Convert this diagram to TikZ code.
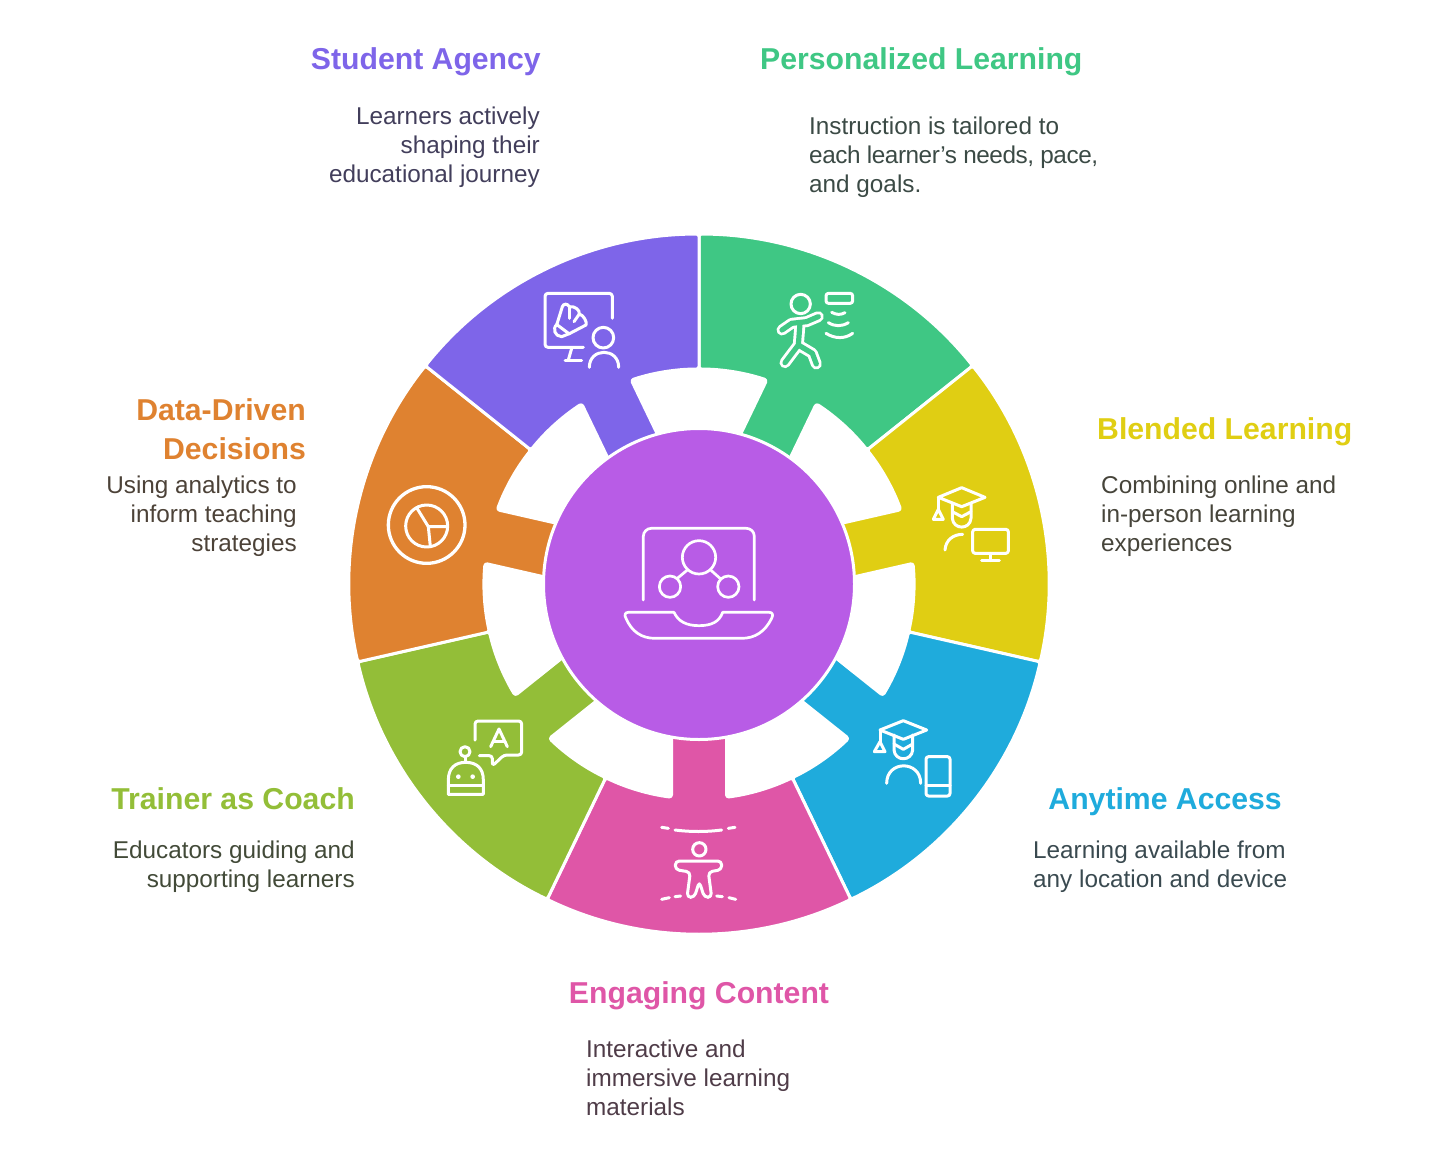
\documentclass[tikz,border=0pt]{standalone}
\usepackage{fontspec}
\setmainfont{Liberation Sans}
\definecolor{cPurple}{HTML}{7E65E9}
\definecolor{cGreen}{HTML}{3FC784}
\definecolor{cYellow}{HTML}{E0CE13}
\definecolor{cBlue}{HTML}{1FABDC}
\definecolor{cPink}{HTML}{DF56A7}
\definecolor{cLime}{HTML}{93BE38}
\definecolor{cOrange}{HTML}{DF8230}
\definecolor{cCentre}{HTML}{B85CE6}
\definecolor{tPurple}{HTML}{423E5B}
\definecolor{tGreen}{HTML}{3B4A45}
\definecolor{tYellow}{HTML}{46443A}
\definecolor{tBlue}{HTML}{3A4A50}
\definecolor{tPink}{HTML}{4F3C48}
\definecolor{tLime}{HTML}{424A38}
\definecolor{tOrange}{HTML}{4C4238}
\tikzset{
  head/.style={inner sep=0pt,font=\fontsize{30.2}{39}\selectfont\bfseries},
  body/.style={inner sep=0pt,font=\fontsize{24.3}{29}\selectfont},
  icon/.style={draw=white,line width=3pt,line cap=round,line join=round,rounded corners=2pt},
  iconc/.style={draw=white,line width=3pt,line cap=round,line join=round},
  centreline/.style={draw=white,line width=2.7pt,line cap=round,line join=round},
}
\newcommand\petal[2]{%
  \begin{scope}[shift={(699,584)},y=1pt,rotate=#1]
    \path[fill=#2,draw=white,line width=3pt,line join=round,rounded corners=2.5pt]
      (-25.714:350) arc[start angle=-25.714,end angle=25.714,radius=350]
      -- (25.714:215) arc[start angle=25.714,end angle=7.35,radius=215]
      -- (100,27.5) -- (100,-27.5) -- (-7.35:215)
      arc[start angle=-7.35,end angle=-25.714,radius=215] -- cycle;
  \end{scope}}
\begin{document}
\begin{tikzpicture}[x=1pt,y=-1pt]
\useasboundingbox (0,0) rectangle (1440,1153);
\petal{64.286}{cGreen}
\petal{12.857}{cYellow}
\petal{-38.571}{cBlue}
\petal{-90}{cPink}
\petal{-141.429}{cLime}
\petal{167.143}{cOrange}
\petal{115.714}{cPurple}
\path[fill=cCentre,draw=white,line width=3pt] (699,584) circle[radius=155.5];
% centre icon
\begin{scope}[shift={(600,510)},scale=1/3]
  \draw[centreline,rounded corners=8pt] (130,270) -- (130,55) -- (463,55) -- (463,270);
  \draw[centreline] (297,142) circle[radius=50];
  \draw[centreline] (210,230) circle[radius=32];
  \draw[centreline] (385,230) circle[radius=32];
  \draw[centreline] (262,180) -- (232,205);
  \draw[centreline] (332,180) -- (360,205);
  \draw[centreline] (85,307) -- (222,307) .. controls (235,335) and (260,347) .. (297,347) .. controls (335,347) and (358,335) .. (368,307) -- (508,307) .. controls (518,307) and (520,315) .. (515,325) .. controls (495,365) and (465,385) .. (425,385) -- (165,385) .. controls (125,385) and (95,365) .. (78,325) .. controls (72,315) and (75,307) .. (85,307) -- cycle;
\end{scope}
% purple icon
\begin{scope}[shift={(520,270)},scale=1/3]
  \draw[icon,rounded corners=3pt] (277,145) -- (277,70) -- (75,70) -- (75,232) -- (190,232);
  \draw[iconc] (155,235) -- (145,270);
  \draw[iconc] (135,270) -- (185,270);
  \draw[iconc] (250,203) circle[radius=31];
  \draw[iconc] (208,292) .. controls (208,232) and (296,232) .. (296,292);
  \draw[iconc] (110,165) -- (127,110) .. controls (130,100) and (143,100) .. (148,110) .. controls (165,108) and (180,120) .. (178,132) .. controls (190,135) and (202,155) .. (198,165) -- (150,190);
  \draw[iconc] (112,162) .. controls (95,175) and (105,200) .. (125,200) -- (150,190);
  \draw[iconc] (112,165) -- (148,192);
  \draw[iconc] (148,110) -- (148,145);
  \draw[iconc] (178,132) -- (162,155);
\end{scope}
% green icon
\begin{scope}[shift={(520,270)},scale=1/3]
  \draw[iconc] (842,102) circle[radius=29];
  \draw[draw=white,line width=11pt,line cap=round,line join=round] (786,180) -- (815,160) -- (860,155) -- (895,140);
  \draw[draw=white,line width=11pt,line cap=round,line join=round] (840,160) -- (835,225) -- (795,278);
  \draw[draw=white,line width=11pt,line cap=round,line join=round] (835,225) -- (877,250) -- (889,282);
  \draw[draw=cGreen,line width=5.2pt,line cap=round,line join=round] (786,180) -- (815,160) -- (860,155) -- (895,140);
  \draw[draw=cGreen,line width=5.2pt,line cap=round,line join=round] (840,160) -- (835,225) -- (795,278);
  \draw[draw=cGreen,line width=5.2pt,line cap=round,line join=round] (835,225) -- (877,250) -- (889,282);
  \draw[iconc,rounded corners=2.5pt] (918,70) rectangle (998,100);
  \draw[iconc] (935,127) .. controls (950,135) and (962,135) .. (975,128);
  \draw[iconc] (925,158) .. controls (945,170) and (965,170) .. (985,158);
  \draw[iconc] (918,190) .. controls (945,207) and (975,207) .. (998,190);
\end{scope}
% yellow icon
\begin{scope}[shift={(900,470)},scale=1/3]
  \draw[iconc] (185,53) -- (255,82) -- (185,110) -- (115,82) -- cycle;
  \draw[iconc] (115,82) -- (115,125);
  \draw[iconc] (115,118) -- (100,148) -- (130,148) -- cycle;
  \draw[iconc] (157,100) -- (157,145) .. controls (160,180) and (210,180) .. (213,145) -- (213,100);
  \draw[iconc] (157,125) -- (185,140) -- (213,125);
  \draw[iconc] (135,240) .. controls (137,210) and (160,193) .. (188,193);
  \draw[iconc,rounded corners=2.5pt] (218,178) rectangle (325,250);
  \draw[iconc] (272,250) -- (272,272);
  \draw[iconc] (245,272) -- (298,272);
\end{scope}
% blue icon
\begin{scope}[shift={(860,700)},scale=1/3]
  \draw[iconc] (130,62) -- (200,90) -- (130,118) -- (60,90) -- cycle;
  \draw[iconc] (60,90) -- (60,130);
  \draw[iconc] (60,125) -- (43,155) -- (75,155) -- cycle;
  \draw[iconc] (102,105) -- (102,150) .. controls (105,185) and (155,185) .. (158,150) -- (158,105);
  \draw[iconc] (102,132) -- (130,148) -- (158,132);
  \draw[iconc] (80,250) .. controls (80,180) and (182,180) .. (182,250);
  \draw[iconc,rounded corners=2.5pt] (198,170) rectangle (270,288);
  \draw[iconc] (198,255) -- (270,255);
\end{scope}
% pink icon
\begin{scope}[shift={(640,810)},scale=1/3]
  \draw[iconc] (65,52) -- (85,55);
  \draw[iconc] (105,60) .. controls (150,66) and (200,66) .. (245,60);
  \draw[iconc] (265,55) -- (285,52);
  \draw[iconc] (178,118) circle[radius=20];
  \draw[icon,rounded corners=4pt] (106,153) -- (245,153) -- (245,179) -- (205,186) -- (215,262) -- (193,262) -- (178,215) -- (163,262) -- (141,262) -- (151,186) -- (106,179) -- cycle;
  \draw[iconc] (65,268) -- (88,263);
  \draw[iconc] (105,260) -- (122,258);
  \draw[iconc] (230,258) -- (247,260);
  \draw[iconc] (267,263) -- (287,268);
\end{scope}
% lime icon
\begin{scope}[shift={(430,705)},scale=1/3]
  \draw[icon,rounded corners=3pt] (135,105) -- (135,48) -- (275,48) -- (275,150) -- (222,150) -- (187,183) -- (187,152) -- (148,152);
  \draw[iconc] (182,125) -- (207,72) -- (232,125);
  \draw[iconc] (190,108) -- (225,108);
  \draw[iconc] (105,140) circle[radius=15];
  \draw[iconc] (105,155) -- (105,172);
  \draw[iconc] (55,268) -- (55,225) .. controls (55,190) and (75,172) .. (107,172) .. controls (140,172) and (160,190) .. (160,225) -- (160,268) -- cycle;
  \draw[iconc] (55,240) -- (160,240);
  \fill[white] (85,215) circle[radius=7];
  \fill[white] (128,215) circle[radius=7];
\end{scope}
% orange icon
\begin{scope}[shift={(375,475)},scale=1/3]
  \draw[iconc,line width=3.3pt] (155,150) circle[radius=115];
  \draw[iconc] (155,153) circle[radius=63];
  \draw[iconc] (125,98) -- (160,155) -- (215,155);
  \draw[iconc] (160,155) -- (166,215);
\end{scope}
% labels
\node[head,text=cPurple,anchor=base east] (h1) at (541,70) {Student Agency};
\node[body,text=tPurple,anchor=north east,align=right] (b1) at (540,107) {Learners actively\\shaping their\\educational journey};
\node[head,text=cGreen,anchor=base west] (h2) at (760,70) {Personalized Learning};
\node[body,text=tGreen,anchor=north west,align=left] (b2) at (809,117) {Instruction is tailored to\\{\addfontfeatures{LetterSpace=-1.8}each learner’s needs, pace,}\\and goals.};
\node[head,text=cYellow,anchor=base west] (h3) at (1097,439) {Blended Learning};
\node[body,text=tYellow,anchor=north west,align=left] (b3) at (1101,476) {Combining online and\\in-person learning\\experiences};
\node[head,text=cBlue,anchor=base east] (h4) at (1282,809) {Anytime Access};
\node[body,text=tBlue,anchor=north west,align=left] (b4) at (1033,841) {Learning available from\\any location and device};
\node[head,text=cPink,anchor=base] (h5) at (699,1003) {Engaging Content};
\node[body,text=tPink,anchor=north west,align=left] (b5) at (586,1040) {Interactive and\\immersive learning\\materials};
\node[head,text=cLime,anchor=base east] (h6) at (355,809) {Trainer as Coach};
\node[body,text=tLime,anchor=north east,align=right] (b6) at (355,841) {Educators guiding and\\supporting learners};
\node[head,text=cOrange,anchor=north east,align=right] (h7) at (306,398) {Data-Driven\\Decisions};
\node[body,text=tOrange,anchor=north east,align=right] (b7) at (297,476) {Using analytics to\\inform teaching\\strategies};
\end{tikzpicture}
\end{document}
